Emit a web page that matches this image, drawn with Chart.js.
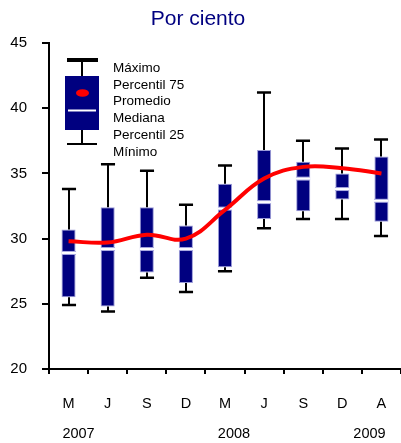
<!DOCTYPE html>
<html>
<head>
<meta charset="utf-8">
<script src="https://cdn.jsdelivr.net/npm/chart.js@4/dist/chart.umd.min.js"></script>
<style>
html,body{margin:0;padding:0;background:#fff;}
canvas{display:block;}
</style>
</head>
<body>
<canvas id="c" width="401" height="443"></canvas>
<script>
// ---- data ----
const categories = ['M','J','S','D','M','J','S','D','A'];
const years      = ['2007','','','','2008','','','','2009'];
const maxima  = [33.8, 35.7, 35.2, 32.6, 35.6, 41.2, 37.5, 36.9, 37.6];
const p75     = [30.7, 32.4, 32.4, 31.0, 34.2, 36.8, 35.9, 35.0, 36.3];
const average = [29.8, 29.7, 30.3, 30.0, 32.2, 34.6, 35.5, 35.4, 35.0];
const median  = [28.9, 29.2, 29.2, 29.2, 32.3, 32.8, 34.6, 33.8, 32.9];
const p25     = [25.5, 24.8, 27.4, 26.6, 27.8, 31.5, 32.1, 33.0, 31.3];
const minima  = [24.9, 24.4, 27.0, 25.9, 27.5, 30.8, 31.5, 31.5, 30.2];
const legendLabels = ['Máximo','Percentil 75','Promedio','Mediana','Percentil 25','Mínimo'];
const titleText = 'Por ciento';

const FONT = "'Liberation Sans', Arial, sans-serif";
const NAVY = '#000080';

const boxExtras = {
  id: 'boxExtras',
  afterDatasetDraw(chart, args) {
    if (args.index !== 0) return;
    const {ctx, scales: {y}} = chart;
    const meta = chart.getDatasetMeta(0);
    ctx.save();
    meta.data.forEach((bar, i) => {
      const cx = Math.round(bar.x);
      const half = bar.width / 2;
      const yMax = y.getPixelForValue(maxima[i]);
      const yMin = y.getPixelForValue(minima[i]);
      const yQ3 = y.getPixelForValue(p75[i]);
      const yQ1 = y.getPixelForValue(p25[i]);
      const yMed = y.getPixelForValue(median[i]);
      ctx.strokeStyle = '#000';
      ctx.lineWidth = 2;
      ctx.beginPath();
      ctx.moveTo(cx, yQ3); ctx.lineTo(cx, yMax);
      ctx.moveTo(cx, yQ1); ctx.lineTo(cx, yMin);
      ctx.stroke();
      ctx.lineWidth = 2.5;
      ctx.beginPath();
      ctx.moveTo(cx - half, yMax); ctx.lineTo(cx + half, yMax);
      ctx.moveTo(cx - half, yMin); ctx.lineTo(cx + half, yMin);
      ctx.stroke();
      // median
      ctx.strokeStyle = '#a8a8e0';
      ctx.lineWidth = 4;
      ctx.beginPath(); ctx.moveTo(cx - half, yMed); ctx.lineTo(cx + half, yMed); ctx.stroke();
      ctx.strokeStyle = '#fff';
      ctx.lineWidth = 2;
      ctx.beginPath(); ctx.moveTo(cx - half, yMed); ctx.lineTo(cx + half, yMed); ctx.stroke();
    });
    ctx.restore();
  }
};

const decor = {
  id: 'decor',
  afterDraw(chart) {
    const {ctx, scales: {x}} = chart;
    ctx.save();
    // title
    ctx.fillStyle = NAVY;
    ctx.font = `21px ${FONT}`;
    ctx.textAlign = 'center';
    ctx.textBaseline = 'middle';
    ctx.fillText(titleText, 198, 19.5);
    // years
    ctx.fillStyle = '#000';
    ctx.font = `14.5px ${FONT}`;
    const yearShift = {0: 10, 4: 9, 8: -12};
    years.forEach((yr, i) => {
      if (!yr) return;
      ctx.fillText(yr, x.getPixelForValue(i) + (yearShift[i] || 0), 434);
    });
    // legend glyph
    ctx.fillStyle = NAVY;
    ctx.fillRect(65, 76, 34, 54);
    ctx.strokeStyle = '#000';
    ctx.lineWidth = 2;
    ctx.beginPath();
    ctx.moveTo(82, 60); ctx.lineTo(82, 76);
    ctx.moveTo(82, 130); ctx.lineTo(82, 144);
    ctx.moveTo(67, 144); ctx.lineTo(97, 144);
    ctx.stroke();
    ctx.lineWidth = 4;
    ctx.beginPath(); ctx.moveTo(67, 60); ctx.lineTo(98, 60); ctx.stroke();
    ctx.fillStyle = '#ff0000';
    ctx.beginPath(); ctx.ellipse(82.5, 93, 6.5, 3.8, 0, 0, Math.PI * 2); ctx.fill();
    ctx.strokeStyle = '#fff';
    ctx.lineWidth = 2;
    ctx.beginPath(); ctx.moveTo(68, 110.5); ctx.lineTo(96, 110.5); ctx.stroke();
    // legend text
    ctx.fillStyle = '#000';
    ctx.font = `13.5px ${FONT}`;
    ctx.textAlign = 'left';
    legendLabels.forEach((t, i) => ctx.fillText(t, 113, 68 + i * 16.8));
    ctx.restore();
  }
};

new Chart(document.getElementById('c'), {
  type: 'bar',
  data: {
    labels: categories,
    datasets: [
      {
        type: 'bar',
        data: p25.map((v, i) => [v, p75[i]]),
        backgroundColor: NAVY,
        borderColor: '#9a9ad8',
        borderWidth: 1,
        borderSkipped: false,
        barPercentage: 0.36,
        categoryPercentage: 1,
        order: 2
      },
      {
        type: 'line',
        data: average,
        borderColor: '#ff0000',
        borderWidth: 4,
        pointRadius: 0,
        tension: 0.4,
        fill: false,
        order: 1
      }
    ]
  },
  options: {
    responsive: false,
    animation: false,
    devicePixelRatio: 1,
    layout: {padding: {top: 43, right: 0, left: 0, bottom: 0}},
    plugins: {legend: {display: false}, title: {display: false}, tooltip: {enabled: false}},
    scales: {
      x: {
        border: {display: true, color: '#000', width: 2},
        grid: {display: true, drawOnChartArea: false, drawTicks: true, tickLength: 5, color: '#000', lineWidth: 2, offset: true},
        ticks: {color: '#000', font: {family: FONT, size: 14.5}, padding: 21, maxRotation: 0},
        afterFit(s) { s.height = 74; s.paddingLeft = 0; s.paddingRight = 0; }
      },
      y: {
        min: 20, max: 45,
        border: {display: true, color: '#000', width: 2},
        grid: {display: true, drawOnChartArea: false, drawTicks: true, tickLength: 7, color: '#000', lineWidth: 2},
        ticks: {stepSize: 5, color: '#000', font: {family: FONT, size: 15}, padding: 15},
        afterFit(s) { s.width = 49; }
      }
    }
  },
  plugins: [boxExtras, decor]
});
</script>
</body>
</html>
